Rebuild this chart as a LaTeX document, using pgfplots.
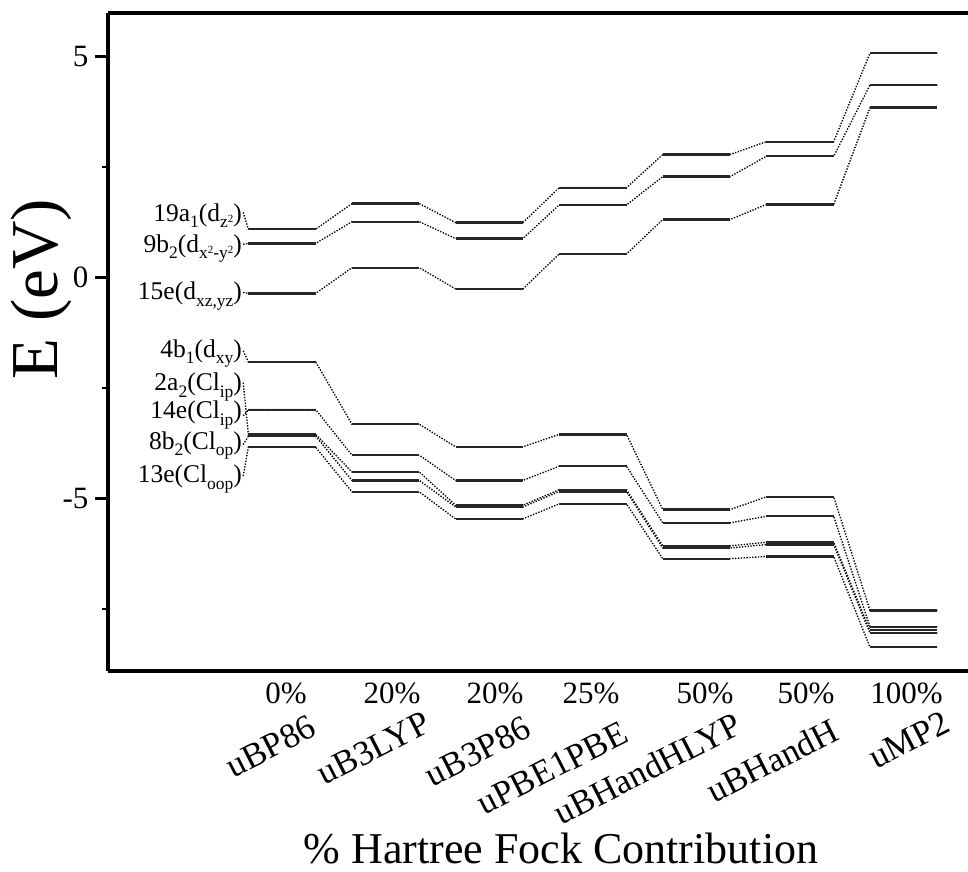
\documentclass[border=0pt]{standalone}
\usepackage{fontspec}
\setmainfont{Liberation Serif}
\usepackage{pgfplots}
\pgfplotsset{compat=1.18}
\newcommand{\sbs}[1]{\raisebox{-6.5pt}{\fontsize{17.5}{20}\selectfont #1}}
\newcommand{\sps}[1]{\raisebox{5.5pt}{\fontsize{11}{12}\selectfont #1}}
\begin{document}
\begin{tikzpicture}[x=1pt,y=1pt,
  conn/.style={black, line width=1.35pt, dash pattern=on 1.35pt off 1.5pt},
  lev/.style={black!85, line width=2.3pt},
  lab/.style={anchor=base east, inner sep=0pt, font=\fontsize{25.5}{30}\selectfont}]
\useasboundingbox (0,0) rectangle (968,871);
\begin{axis}[
  at={(108pt,200pt)}, anchor=south west,
  scale only axis, width=864pt, height=658pt,
  xmin=-1.680, xmax=6.660, ymin=-8.90, ymax=5.98,
  axis x line=box, axis y line=left,
  axis line style={-, line width=3.2pt},
  xtick=\empty,
  ytick={-5,0,5}, yticklabels={-5,0,5},
  minor ytick={-7.5,-2.5,2.5},
  tick align=outside,
  major tick length=13pt, minor tick length=6pt,
  tick style={black, line width=2.6pt},
  yticklabel style={font=\fontsize{31}{36}\selectfont, xshift=-3pt},
  clip=false,
  unbounded coords=jump,
]
% ---- connectors (dotted) ----
\addplot[conn] coordinates {(-0.375,1.47) (-0.325,1.09) (0.325,1.09) (0.675,1.67) (1.325,1.67) (1.675,1.24) (2.325,1.24) (2.675,2.03) (3.325,2.03) (3.675,2.78) (4.325,2.78) (4.675,3.07) (5.325,3.07) (5.675,5.07) (6.325,5.07)};
\addplot[conn] coordinates {(-0.375,0.75) (-0.325,0.77) (0.325,0.77) (0.675,1.26) (1.325,1.26) (1.675,0.88) (2.325,0.88) (2.675,1.64) (3.325,1.64) (3.675,2.28) (4.325,2.28) (4.675,2.74) (5.325,2.74) (5.675,4.35) (6.325,4.35)};
\addplot[conn] coordinates {(-0.375,-0.34) (-0.325,-0.36) (0.325,-0.36) (0.675,0.22) (1.325,0.22) (1.675,-0.26) (2.325,-0.26) (2.675,0.53) (3.325,0.53) (3.675,1.31) (4.325,1.31) (4.675,1.65) (5.325,1.65) (5.675,3.84) (6.325,3.84)};
\addplot[conn] coordinates {(-0.375,-1.66) (-0.325,-1.91) (0.325,-1.91) (0.675,-3.32) (1.325,-3.32) (1.675,-3.83) (2.325,-3.83) (2.675,-3.55) (3.325,-3.55) (3.675,-5.25) (4.325,-5.25) (4.675,-4.96) (5.325,-4.96) (5.675,-7.53) (6.325,-7.53)};
\addplot[conn] coordinates {(-0.375,-3.13) (-0.325,-2.99) (0.325,-2.99) (0.675,-4.02) (1.325,-4.02) (1.675,-4.59) (2.325,-4.59) (2.675,-4.27) (3.325,-4.27) (3.675,-5.55) (4.325,-5.55) (4.675,-5.40) (5.325,-5.40) (5.675,-7.90) (6.325,-7.90)};
\addplot[conn] coordinates {(-0.375,-2.38) (-0.325,-3.55) (0.325,-3.55) (0.675,-4.40) (1.325,-4.40) (1.675,-5.15) (2.325,-5.15) (2.675,-4.80) (3.325,-4.80) (3.675,-6.07) (4.325,-6.07) (4.675,-5.99) (5.325,-5.99) (5.675,-7.98) (6.325,-7.98)};
\addplot[conn] coordinates {(-0.375,-3.78) (-0.325,-3.59) (0.325,-3.59) (0.675,-4.59) (1.325,-4.59) (1.675,-5.19) (2.325,-5.19) (2.675,-4.84) (3.325,-4.84) (3.675,-6.12) (4.325,-6.12) (4.675,-6.04) (5.325,-6.04) (5.675,-8.04) (6.325,-8.04)};
\addplot[conn] coordinates {(-0.375,-4.49) (-0.325,-3.84) (0.325,-3.84) (0.675,-4.85) (1.325,-4.85) (1.675,-5.46) (2.325,-5.46) (2.675,-5.12) (3.325,-5.12) (3.675,-6.36) (4.325,-6.36) (4.675,-6.31) (5.325,-6.31) (5.675,-8.36) (6.325,-8.36)};
% ---- levels (solid) ----
\addplot[lev] coordinates {(-0.325,1.09) (0.325,1.09) (0.5,nan) (0.675,1.67) (1.325,1.67) (1.5,nan) (1.675,1.24) (2.325,1.24) (2.5,nan) (2.675,2.03) (3.325,2.03) (3.5,nan) (3.675,2.78) (4.325,2.78) (4.5,nan) (4.675,3.07) (5.325,3.07) (5.5,nan) (5.675,5.07) (6.325,5.07)};
\addplot[lev] coordinates {(-0.325,0.77) (0.325,0.77) (0.5,nan) (0.675,1.26) (1.325,1.26) (1.5,nan) (1.675,0.88) (2.325,0.88) (2.5,nan) (2.675,1.64) (3.325,1.64) (3.5,nan) (3.675,2.28) (4.325,2.28) (4.5,nan) (4.675,2.74) (5.325,2.74) (5.5,nan) (5.675,4.35) (6.325,4.35)};
\addplot[lev] coordinates {(-0.325,-0.36) (0.325,-0.36) (0.5,nan) (0.675,0.22) (1.325,0.22) (1.5,nan) (1.675,-0.26) (2.325,-0.26) (2.5,nan) (2.675,0.53) (3.325,0.53) (3.5,nan) (3.675,1.31) (4.325,1.31) (4.5,nan) (4.675,1.65) (5.325,1.65) (5.5,nan) (5.675,3.84) (6.325,3.84)};
\addplot[lev] coordinates {(-0.325,-1.91) (0.325,-1.91) (0.5,nan) (0.675,-3.32) (1.325,-3.32) (1.5,nan) (1.675,-3.83) (2.325,-3.83) (2.5,nan) (2.675,-3.55) (3.325,-3.55) (3.5,nan) (3.675,-5.25) (4.325,-5.25) (4.5,nan) (4.675,-4.96) (5.325,-4.96) (5.5,nan) (5.675,-7.53) (6.325,-7.53)};
\addplot[lev] coordinates {(-0.325,-2.99) (0.325,-2.99) (0.5,nan) (0.675,-4.02) (1.325,-4.02) (1.5,nan) (1.675,-4.59) (2.325,-4.59) (2.5,nan) (2.675,-4.27) (3.325,-4.27) (3.5,nan) (3.675,-5.55) (4.325,-5.55) (4.5,nan) (4.675,-5.40) (5.325,-5.40) (5.5,nan) (5.675,-7.90) (6.325,-7.90)};
\addplot[lev] coordinates {(-0.325,-3.55) (0.325,-3.55) (0.5,nan) (0.675,-4.40) (1.325,-4.40) (1.5,nan) (1.675,-5.15) (2.325,-5.15) (2.5,nan) (2.675,-4.80) (3.325,-4.80) (3.5,nan) (3.675,-6.07) (4.325,-6.07) (4.5,nan) (4.675,-5.99) (5.325,-5.99) (5.5,nan) (5.675,-7.98) (6.325,-7.98)};
\addplot[lev] coordinates {(-0.325,-3.59) (0.325,-3.59) (0.5,nan) (0.675,-4.59) (1.325,-4.59) (1.5,nan) (1.675,-5.19) (2.325,-5.19) (2.5,nan) (2.675,-4.84) (3.325,-4.84) (3.5,nan) (3.675,-6.12) (4.325,-6.12) (4.5,nan) (4.675,-6.04) (5.325,-6.04) (5.5,nan) (5.675,-8.04) (6.325,-8.04)};
\addplot[lev] coordinates {(-0.325,-3.84) (0.325,-3.84) (0.5,nan) (0.675,-4.85) (1.325,-4.85) (1.5,nan) (1.675,-5.46) (2.325,-5.46) (2.5,nan) (2.675,-5.12) (3.325,-5.12) (3.5,nan) (3.675,-6.36) (4.325,-6.36) (4.5,nan) (4.675,-6.31) (5.325,-6.31) (5.5,nan) (5.675,-8.36) (6.325,-8.36)};
% ---- orbital labels ----
\node[lab] at (axis cs:-0.385,1.27) {19a\sbs{1}(d\sbs{z\sps{2}})};
\node[lab] at (axis cs:-0.385,0.57) {9b\sbs{2}(d\sbs{x\sps{2}-y\sps{2}})};
\node[lab] at (axis cs:-0.385,-0.50) {15e(d\sbs{xz,yz})};
\node[lab] at (axis cs:-0.385,-1.81) {4b\sbs{1}(d\sbs{xy})};
\node[lab] at (axis cs:-0.385,-2.56) {2a\sbs{2}(Cl\sbs{ip})};
\node[lab] at (axis cs:-0.385,-3.20) {14e(Cl\sbs{ip})};
\node[lab] at (axis cs:-0.385,-3.89) {8b\sbs{2}(Cl\sbs{op})};
\node[lab] at (axis cs:-0.385,-4.64) {13e(Cl\sbs{oop})};
\end{axis}
% ---- x category labels ----
\begin{scope}[every node/.style={inner sep=0pt, font=\fontsize{31}{36}\selectfont}]
\node[anchor=base] at (286,168) {0\%};
\node[anchor=base] at (392,168) {20\%};
\node[anchor=base] at (495,168) {20\%};
\node[anchor=base] at (591,168) {25\%};
\node[anchor=base] at (705,168) {50\%};
\node[anchor=base] at (806,168) {50\%};
\node[anchor=base] at (906.5,168) {100\%};
\end{scope}
\begin{scope}[every node/.style={inner sep=0pt, font=\fontsize{35}{40}\selectfont, anchor=north east, rotate=27}]
\node at (308,157) {uBP86};
\node at (422,161) {uB3LYP};
\node at (523,156) {uB3P86};
\node at (620,151) {uPBE1PBE};
\node at (733,160) {uBHandHLYP};
\node at (830,154) {uBHandH};
\node at (942,161) {uMP2};
\end{scope}
\node[anchor=base, inner sep=0pt, font=\fontsize{44}{50}\selectfont] at (561,8) {\% Hartree Fock Contribution};
\node[anchor=base, rotate=90, inner sep=0pt, font=\fontsize{67}{70}\selectfont] at (57,582) {E (eV)};
\end{tikzpicture}
\end{document}
